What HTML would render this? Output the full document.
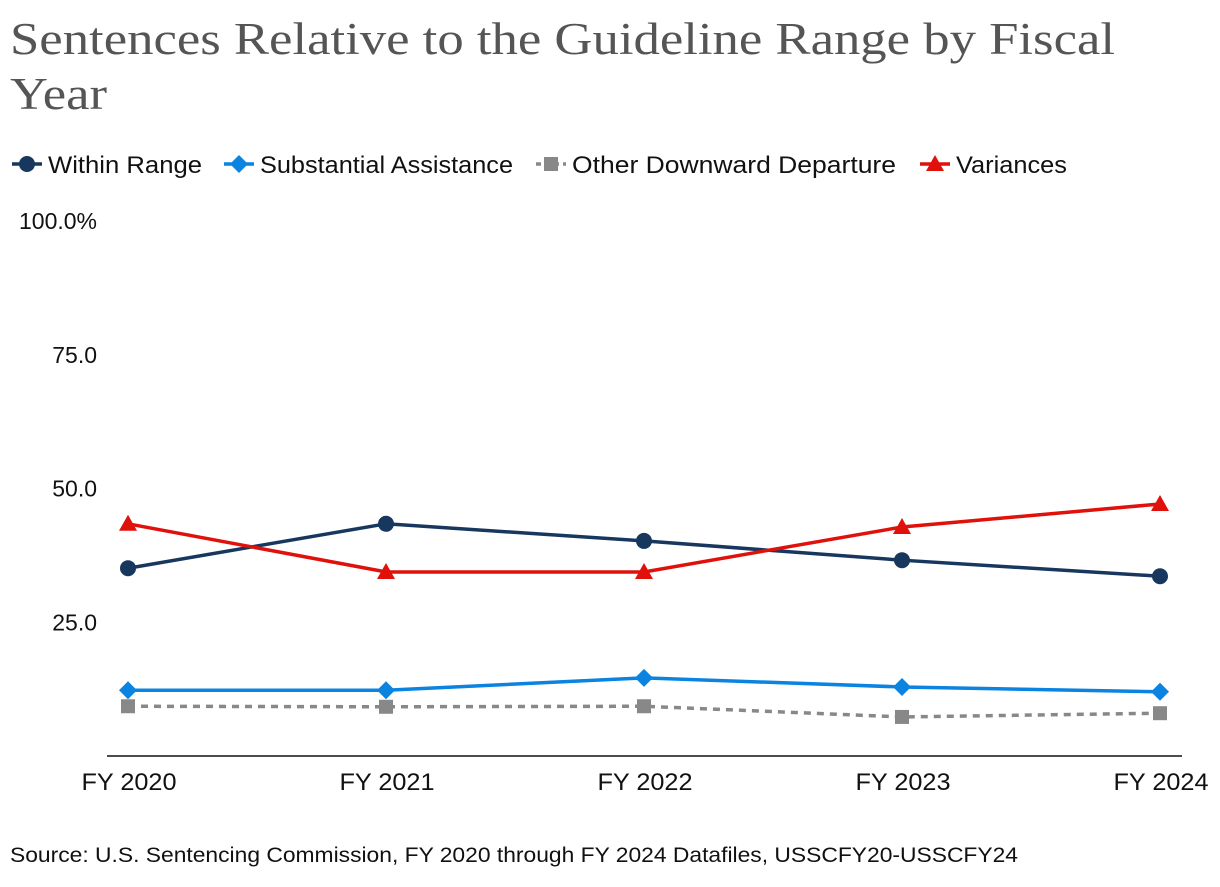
<!DOCTYPE html>
<html><head><meta charset="utf-8"><style>
body{margin:0;background:#fff;width:1220px;height:882px;overflow:hidden;font-family:"Liberation Sans",sans-serif}
</style></head><body>
<svg width="1220" height="882">
<text x="10" y="54" font-family="Liberation Serif,serif" font-size="45" fill="#555" textLength="1105" lengthAdjust="spacingAndGlyphs">Sentences Relative to the Guideline Range by Fiscal</text>
<text x="10" y="109" font-family="Liberation Serif,serif" font-size="45" fill="#555" textLength="97" lengthAdjust="spacingAndGlyphs">Year</text>
<g id="legend"></g>
<g id="axes"></g>
<g id="plot"></g>
<text x="10" y="862" font-size="21" fill="#111" textLength="1008" lengthAdjust="spacingAndGlyphs">Source: U.S. Sentencing Commission, FY 2020 through FY 2024 Datafiles, USSCFY20-USSCFY24</text>
</svg>
<script>
const categories=["FY 2020","FY 2021","FY 2022","FY 2023","FY 2024"];
const withinRange=[35.1,43.4,40.2,36.6,33.6];
const substantialAssistance=[12.3,12.3,14.6,12.9,12.0];
const otherDownward=[9.3,9.2,9.3,7.3,8.0];
const variances=[43.4,34.4,34.4,42.8,47.1];
const yTicks=[25,50,75,100];
const yTickLabels=["25.0","50.0","75.0","100.0%"];
const NS="http://www.w3.org/2000/svg";
const X=i=>128+i*258, Y=v=>756-v*5.35;
function mk(t,a,p){const e=document.createElementNS(NS,t);for(const k in a)e.setAttribute(k,a[k]);p.appendChild(e);return e;}
const axes=document.getElementById('axes'),plot=document.getElementById('plot'),leg=document.getElementById('legend');
yTicks.forEach((v,i)=>{const t=mk('text',{x:97,y:Y(v)+8,'font-size':23,fill:'#111','text-anchor':'end'},axes);t.textContent=yTickLabels[i];

});
const ax=mk('line',{x1:107,x2:1182,y1:756,y2:756,stroke:'#111','stroke-width':1.5},axes);


categories.forEach((c,i)=>{const t=mk('text',{x:X(i)+1,y:790,'font-size':24,fill:'#111','text-anchor':'middle',textLength:95,lengthAdjust:'spacingAndGlyphs'},axes);t.textContent=c;

});
function marker(kind,x,y,col,g){
 if(kind==='circle')return mk('circle',{cx:x,cy:y,r:8,fill:col},g);
 if(kind==='diamond')return mk('polygon',{points:`${x},${y-9} ${x+9},${y} ${x},${y+9} ${x-9},${y}`,fill:col},g);
 if(kind==='square')return mk('rect',{x:x-7,y:y-7,width:14,height:14,fill:col},g);
 return mk('polygon',{points:`${x},${y-9} ${x+9},${y+7} ${x-9},${y+7}`,fill:col},g);
}
const series=[
 {name:'Within Range',d:withinRange,col:'#17375e',m:'circle',dash:null,key:'within-range'},
 {name:'Substantial Assistance',d:substantialAssistance,col:'#0a84e0',m:'diamond',dash:null,key:'substantial-assistance'},
 {name:'Other Downward Departure',d:otherDownward,col:'#888',m:'square',dash:'7 6',key:'other-downward-departure'},
 {name:'Variances',d:variances,col:'#e0110b',m:'triangle',dash:null,key:'variances'}];
const legX=[12,224,536,920];
const legW=[154,253,324,111];
series.forEach((s,si)=>{
 const g=mk('g',{},plot);
 
 
 const p=mk('polyline',{points:s.d.map((v,i)=>X(i)+','+Y(v)).join(' '),fill:'none',stroke:s.col,'stroke-width':3.5},g);
 if(s.dash)p.setAttribute('stroke-dasharray',s.dash);
 s.d.forEach((v,i)=>{const m=marker(s.m,X(i),Y(v),s.col,g);
  
  });
 const lg=mk('g',{},leg);
 
 
 const lx=legX[si];
 const ll=mk('line',{x1:lx,x2:lx+30,y1:164,y2:164,stroke:s.col,'stroke-width':3.5},lg);
 if(s.dash)ll.setAttribute('stroke-dasharray','5 4');
 marker(s.m,lx+15,164,s.col,lg);
 const t=mk('text',{x:lx+36,y:173,'font-size':24,fill:'#111',textLength:legW[si],lengthAdjust:'spacingAndGlyphs'},lg);t.textContent=s.name;
});
</script>
</body></html>
